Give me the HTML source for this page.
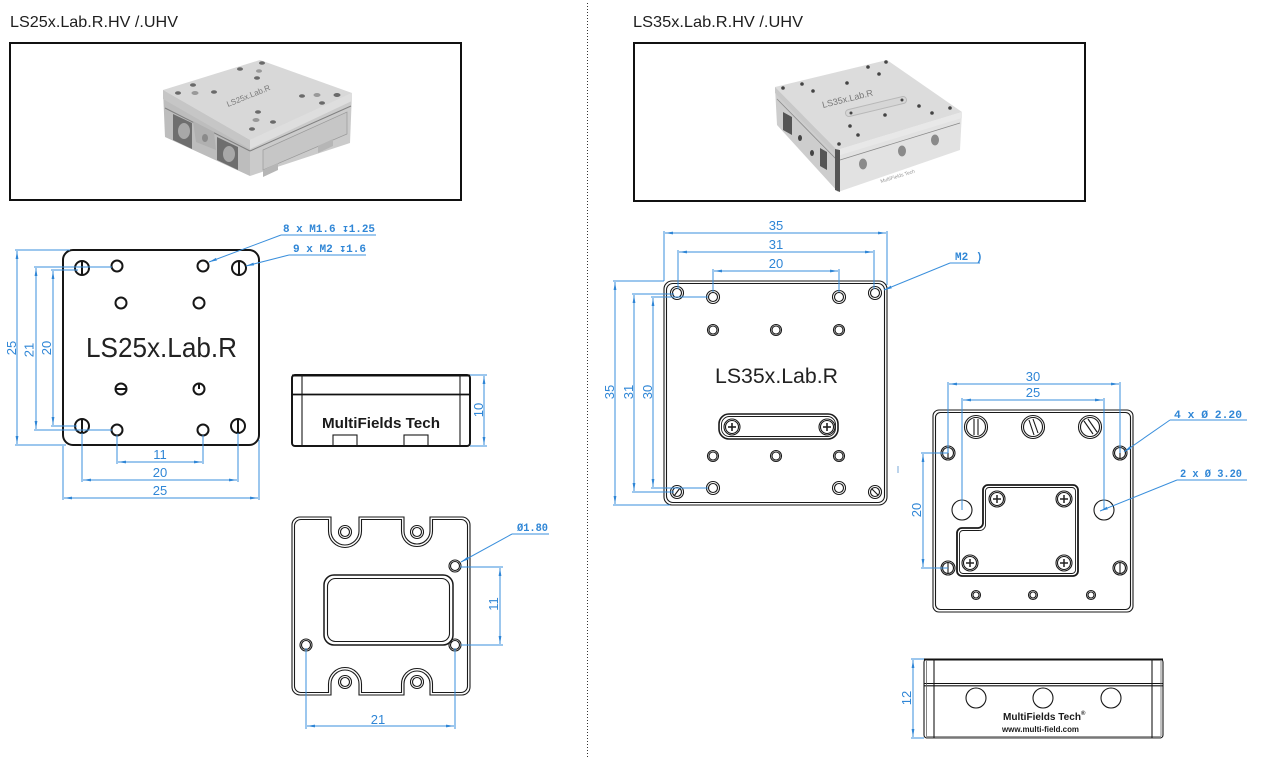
<!DOCTYPE html>
<html><head><meta charset="utf-8">
<style>
html,body{margin:0;padding:0;background:#fff;}
body{width:1262px;height:757px;overflow:hidden;}
svg{display:block;}
.k{fill:none;stroke:#161616;stroke-width:2;}
.t{fill:none;stroke:#1a1a1a;stroke-width:1.1;}
.b{fill:none;stroke:#3a8fdc;stroke-width:1;}
.d{fill:none;stroke:#3a8fdc;stroke-width:1;marker-start:url(#ar);marker-end:url(#ar);}
.l{fill:none;stroke:#3a8fdc;stroke-width:1;marker-end:url(#ar);}
.n{font-family:"Liberation Sans",sans-serif;font-size:13px;fill:#2f86d6;}
.m{font-family:"Liberation Mono","DejaVu Sans Mono",monospace;font-size:11px;fill:#2f86d6;font-weight:bold;}
.h{font-family:"Liberation Sans",sans-serif;font-size:16px;fill:#1e1e1e;}
</style></head><body>
<svg width="1262" height="757" viewBox="0 0 1262 757" xmlns="http://www.w3.org/2000/svg">
<defs>
<marker id="ar" viewBox="0 0 8 4" refX="8" refY="2" markerWidth="8" markerHeight="4" orient="auto-start-reverse" markerUnits="userSpaceOnUse"><path d="M0,0.6L8,2L0,3.4z" fill="#2f86d6"/></marker>
</defs>

<!-- divider -->
<line x1="587.5" y1="3" x2="587.5" y2="757" stroke="#333" stroke-width="1" stroke-dasharray="1,2"/>

<!-- headers -->
<text class="h" x="10" y="27" textLength="168" lengthAdjust="spacingAndGlyphs">LS25x.Lab.R.HV /.UHV</text>
<text class="h" x="633" y="27" textLength="170" lengthAdjust="spacingAndGlyphs">LS35x.Lab.R.HV /.UHV</text>

<!-- photo boxes -->
<rect x="10" y="43" width="451" height="157" fill="#fff" stroke="#111" stroke-width="2"/>
<rect x="634" y="43" width="451" height="158" fill="#fff" stroke="#111" stroke-width="2"/>

<!-- left photo -->
<g>
<polygon points="163,90 250,140 250,176 165,137" fill="#bdbdbd"/>
<polygon points="250,140 352,93 350,143 250,176" fill="#cbcbcb"/>
<polygon points="163,90 260,60 352,93 250,140" fill="#d8d8d8"/>
<polygon points="163,90 250,140 250,149 163,99" fill="#c6c6c6"/>
<polygon points="250,140 352,93 352,101 250,149" fill="#dedede"/>
<line x1="165" y1="108" x2="250" y2="151" stroke="#808080" stroke-width="1"/>
<line x1="250" y1="151" x2="351" y2="106" stroke="#808080" stroke-width="1"/>
<polygon points="173,114 192,123 192,149 173,140" fill="#6e6e6e"/>
<ellipse cx="184" cy="131" rx="6" ry="8" fill="#a8a8a8"/>
<polygon points="217,137 238,147 238,170 217,160" fill="#6e6e6e"/>
<ellipse cx="229" cy="154" rx="6" ry="8" fill="#a8a8a8"/>
<polygon points="193,121 214,132 216,150 196,142" fill="#b0b0b0"/>
<ellipse cx="205" cy="138" rx="3" ry="4" fill="#8a8a8a"/>
<polygon points="263,150 347,112 347,134 263,170" fill="#c6c6c6" stroke="#9a9a9a" stroke-width="0.7"/>
<polygon points="263,170 278,163 278,170 263,177" fill="#b6b6b6"/>
<polygon points="318,146 333,139 333,146 318,153" fill="#b6b6b6"/>
<g fill="#6a6a6a">
<ellipse cx="262" cy="63" rx="3" ry="1.8"/><ellipse cx="240" cy="69" rx="3" ry="1.8"/><ellipse cx="259" cy="71" rx="3" ry="1.8" fill="#999"/><ellipse cx="257" cy="78" rx="3" ry="1.8"/>
<ellipse cx="193" cy="85" rx="3" ry="1.8"/><ellipse cx="178" cy="93" rx="3" ry="1.8"/><ellipse cx="195" cy="93" rx="3.5" ry="2" fill="#999"/><ellipse cx="214" cy="92" rx="3" ry="1.8"/>
<ellipse cx="302" cy="96" rx="3" ry="1.8"/><ellipse cx="317" cy="95" rx="3.5" ry="2" fill="#999"/><ellipse cx="337" cy="95" rx="3.5" ry="2"/><ellipse cx="322" cy="103" rx="3" ry="1.8"/>
<ellipse cx="258" cy="112" rx="3" ry="1.8"/><ellipse cx="256" cy="120" rx="3.5" ry="2" fill="#999"/><ellipse cx="273" cy="122" rx="3" ry="1.8"/><ellipse cx="252" cy="129" rx="3" ry="1.8"/>
</g>
<text x="228" y="107" transform="rotate(-22 228 107)" font-family="Liberation Sans,sans-serif" font-size="8" fill="#7a7a7a">LS25x.Lab.R</text>
</g>

<!-- right photo -->
<g>
<polygon points="775,87 837,150 838,192 777,125" fill="#cdcdcd"/>
<polygon points="837,150 962,112 960,150 838,192" fill="#e2e2e2"/>
<polygon points="775,87 887,60 962,112 837,150" fill="#dcdcdc"/>
<polygon points="775,87 837,150 837,156 775,93" fill="#c8c8c8"/>
<polygon points="837,150 962,112 962,118 837,156" fill="#e8e8e8"/>
<line x1="840" y1="160" x2="960" y2="123" stroke="#8a8a8a" stroke-width="0.8"/>
<line x1="777" y1="99" x2="837" y2="160" stroke="#8a8a8a" stroke-width="0.8"/>
<polygon points="835,149 840,150 840,192 835,190" fill="#555"/>
<polygon points="783,112 792,117 792,135 783,130" fill="#555"/>
<polygon points="820,148 827,152 827,170 820,166" fill="#555"/>
<ellipse cx="863" cy="164" rx="4" ry="5.5" fill="#8a8a8a"/>
<ellipse cx="902" cy="151" rx="4" ry="5.5" fill="#8a8a8a"/>
<ellipse cx="935" cy="140" rx="4" ry="5.5" fill="#8a8a8a"/>
<ellipse cx="800" cy="138" rx="2" ry="3" fill="#444"/>
<ellipse cx="812" cy="153" rx="2" ry="3" fill="#444"/>
<line x1="849" y1="113" x2="903" y2="100" stroke="#b8b8b8" stroke-width="8" stroke-linecap="round"/>
<line x1="849" y1="113" x2="903" y2="100" stroke="#d6d6d6" stroke-width="6" stroke-linecap="round"/>
<g fill="#444">
<circle cx="886" cy="62" r="1.8"/><circle cx="868" cy="67" r="1.8"/><circle cx="879" cy="74" r="1.8"/><circle cx="847" cy="83" r="1.8"/>
<circle cx="802" cy="84" r="1.8"/><circle cx="783" cy="88" r="1.8"/><circle cx="813" cy="91" r="1.8"/><circle cx="919" cy="106" r="1.8"/>
<circle cx="950" cy="108" r="1.8"/><circle cx="932" cy="113" r="1.8"/><circle cx="885" cy="115" r="1.8"/><circle cx="850" cy="126" r="1.8"/>
<circle cx="858" cy="135" r="1.8"/><circle cx="839" cy="144" r="1.8"/><circle cx="902" cy="100" r="1.5"/><circle cx="851" cy="113" r="1.5"/>
</g>
<text x="823" y="108" transform="rotate(-14 823 108)" font-family="Liberation Sans,sans-serif" font-size="9" fill="#777">LS35x.Lab.R</text>
<text x="881" y="183" transform="rotate(-17 881 183)" font-family="Liberation Sans,sans-serif" font-size="5" fill="#999">MultiFields Tech</text>
</g>

<!-- ===== LEFT TOP VIEW ===== -->
<rect x="63" y="250" width="196" height="195" rx="10" class="k" stroke-width="2.2"/>
<g class="k">
<circle cx="82" cy="268" r="7"/><line x1="82" y1="261" x2="82" y2="275"/>
<circle cx="239" cy="268" r="7"/><line x1="239" y1="261" x2="239" y2="275"/>
<circle cx="82" cy="426" r="7"/><line x1="82" y1="419" x2="82" y2="433"/>
<circle cx="238" cy="426" r="7"/><line x1="238" y1="419" x2="238" y2="433"/>
<circle cx="117" cy="266" r="5.5"/><circle cx="203" cy="266" r="5.5"/>
<circle cx="121" cy="303" r="5.5"/><circle cx="199" cy="303" r="5.5"/>
<circle cx="121" cy="389" r="5.5"/><line x1="116" y1="389" x2="126" y2="389"/>
<circle cx="199" cy="389" r="5.5"/><line x1="199" y1="384" x2="199" y2="389"/>
<circle cx="117" cy="430" r="5.5"/><circle cx="203" cy="430" r="5.5"/>
</g>
<text x="86" y="357" textLength="151" lengthAdjust="spacingAndGlyphs" font-family="Liberation Sans,sans-serif" font-size="28" fill="#222">LS25x.Lab.R</text>

<!-- left top dims -->
<g class="b">
<line x1="15" y1="250" x2="70" y2="250"/><line x1="15" y1="445" x2="66" y2="445"/>
<line x1="34" y1="267" x2="112" y2="267"/><line x1="34" y1="430" x2="112" y2="430"/>
<line x1="51" y1="270" x2="78" y2="270"/><line x1="51" y1="426" x2="77" y2="426"/>
<line x1="117" y1="435" x2="117" y2="464"/><line x1="203" y1="435" x2="203" y2="464"/>
<line x1="82" y1="433" x2="82" y2="482"/><line x1="238" y1="433" x2="238" y2="482"/>
<line x1="63" y1="446" x2="63" y2="500"/><line x1="259" y1="440" x2="259" y2="500"/>
</g>
<line class="d" x1="17" y1="251" x2="17" y2="444"/>
<line class="d" x1="36" y1="268" x2="36" y2="429"/>
<line class="d" x1="53" y1="271" x2="53" y2="425"/>
<line class="d" x1="118" y1="462" x2="202" y2="462"/>
<line class="d" x1="83" y1="480" x2="237" y2="480"/>
<line class="d" x1="64" y1="498" x2="258" y2="498"/>
<text class="n" transform="translate(16,348) rotate(-90)" text-anchor="middle">25</text>
<text class="n" transform="translate(33.5,350) rotate(-90)" text-anchor="middle">21</text>
<text class="n" transform="translate(51,348) rotate(-90)" text-anchor="middle">20</text>
<text class="n" x="160" y="459" text-anchor="middle">11</text>
<text class="n" x="160" y="477" text-anchor="middle">20</text>
<text class="n" x="160" y="495" text-anchor="middle">25</text>

<!-- callouts -->
<text class="m" x="283" y="232" textLength="92" lengthAdjust="spacingAndGlyphs">8 x M1.6 ↧1.25</text>
<line class="b" x1="281" y1="235" x2="376" y2="235"/>
<line class="l" x1="281" y1="235" x2="209" y2="262"/>
<text class="m" x="293" y="252" textLength="73" lengthAdjust="spacingAndGlyphs">9 x M2 ↧1.6</text>
<line class="b" x1="289" y1="255" x2="366" y2="255"/>
<line class="l" x1="289" y1="255" x2="246" y2="266"/>

<!-- ===== LEFT SIDE VIEW ===== -->
<rect x="292" y="375" width="178" height="71" rx="3" class="k" stroke-width="1.6"/>
<line x1="292" y1="375.5" x2="470" y2="375.5" stroke="#111" stroke-width="2"/>
<line x1="292" y1="394.5" x2="470" y2="394.5" stroke="#111" stroke-width="1.8"/>
<line x1="302" y1="375" x2="302" y2="446" class="t"/>
<line x1="460" y1="375" x2="460" y2="446" class="t"/>
<rect x="333" y="435" width="24" height="11" class="t"/>
<rect x="404" y="435" width="24" height="11" class="t"/>
<text x="322" y="428" textLength="118" lengthAdjust="spacingAndGlyphs" font-family="Liberation Sans,sans-serif" font-size="15" font-weight="bold" fill="#1a1a1a">MultiFields Tech</text>
<g class="b"><line x1="470" y1="375" x2="487" y2="375"/><line x1="470" y1="446" x2="487" y2="446"/></g>
<line class="d" x1="484" y1="376" x2="484" y2="445"/>
<text class="n" transform="translate(483,410) rotate(-90)" text-anchor="middle">10</text>

<!-- ===== LEFT BOTTOM VIEW ===== -->
<path class="t" stroke-width="1.5" d="M300,517 H331 V531 A14,14 0 0 0 359,531 V517 H404 V531 A13,13 0 0 0 430,531 V517 H462 A8,8 0 0 1 470,525 V687 A8,8 0 0 1 462,695 H430 V684 A13,13 0 0 0 404,684 V695 H359 V684 A14,14 0 0 0 331,684 V695 H300 A8,8 0 0 1 292,687 V525 A8,8 0 0 1 300,517 Z"/>
<path class="t" d="M301,519.5 H328.5 V531 A16.5,16.5 0 0 0 361.5,531 V519.5 H401.5 V531 A15.5,15.5 0 0 0 432.5,531 V519.5 H461 A6.5,6.5 0 0 1 467.5,526 V686 A6.5,6.5 0 0 1 461,692.5 H432.5 V684 A15.5,15.5 0 0 0 401.5,684 V692.5 H361.5 V684 A16.5,16.5 0 0 0 328.5,684 V692.5 H301 A6.5,6.5 0 0 1 294.5,686 V526 A6.5,6.5 0 0 1 301,519.5 Z"/>
<g class="t">
<circle cx="345" cy="532" r="6.5"/><circle cx="345" cy="532" r="4.5"/>
<circle cx="417" cy="532" r="6.5"/><circle cx="417" cy="532" r="4.5"/>
<circle cx="345" cy="682" r="6.5"/><circle cx="345" cy="682" r="4.5"/>
<circle cx="417" cy="682" r="6.5"/><circle cx="417" cy="682" r="4.5"/>
<circle cx="455" cy="566" r="6"/><circle cx="455" cy="566" r="4.5"/>
<circle cx="306" cy="645" r="6"/><circle cx="306" cy="645" r="4.5"/>
<circle cx="455" cy="645" r="6"/><circle cx="455" cy="645" r="4.5"/>
<rect x="324" y="575" width="129" height="70" rx="10" stroke-width="1.5"/>
<rect x="327.5" y="578.5" width="122" height="63" rx="8"/>
</g>
<text class="m" x="517" y="531" textLength="31" lengthAdjust="spacingAndGlyphs">Ø1.80</text>
<line class="b" x1="512" y1="534" x2="549" y2="534"/>
<line class="l" x1="512" y1="534" x2="461" y2="562"/>
<g class="b"><line x1="460" y1="567" x2="503" y2="567"/><line x1="461" y1="645" x2="503" y2="645"/>
<line x1="306" y1="648" x2="306" y2="729"/><line x1="455" y1="648" x2="455" y2="729"/></g>
<line class="d" x1="500" y1="568" x2="500" y2="644"/>
<line class="d" x1="307" y1="726" x2="454" y2="726"/>
<text class="n" transform="translate(498,604) rotate(-90)" text-anchor="middle">11</text>
<text class="n" x="378" y="724" text-anchor="middle">21</text>

<!-- ===== RIGHT TOP VIEW ===== -->
<rect x="664" y="281" width="223" height="224" rx="8" class="t" stroke-width="1.8"/>
<rect x="666.5" y="283.5" width="218" height="219" rx="6.5" class="t" stroke-width="0.9"/>
<g class="t" stroke-width="1.4">
<circle cx="677" cy="293" r="6.5"/><circle cx="677" cy="293" r="4.5"/>
<circle cx="875" cy="293" r="6.5"/><circle cx="875" cy="293" r="4.5"/>
<circle cx="677" cy="492" r="6.5"/><circle cx="677" cy="492" r="4.5"/><line x1="674" y1="496" x2="680" y2="488"/>
<circle cx="875" cy="492" r="6.5"/><circle cx="875" cy="492" r="4.5"/><line x1="872" y1="489" x2="878" y2="495"/>
<circle cx="713" cy="297" r="6.5"/><circle cx="713" cy="297" r="4.5"/>
<circle cx="839" cy="297" r="6.5"/><circle cx="839" cy="297" r="4.5"/>
<circle cx="713" cy="330" r="5.5"/><circle cx="713" cy="330" r="4"/>
<circle cx="776" cy="330" r="5.5"/><circle cx="776" cy="330" r="4"/>
<circle cx="839" cy="330" r="5.5"/><circle cx="839" cy="330" r="4"/>
<circle cx="713" cy="456" r="5.5"/><circle cx="713" cy="456" r="4"/>
<circle cx="776" cy="456" r="5.5"/><circle cx="776" cy="456" r="4"/>
<circle cx="839" cy="456" r="5.5"/><circle cx="839" cy="456" r="4"/>
<circle cx="713" cy="488" r="6.5"/><circle cx="713" cy="488" r="4.5"/>
<circle cx="839" cy="488" r="6.5"/><circle cx="839" cy="488" r="4.5"/>
<rect x="719" y="414" width="119" height="25" rx="10" stroke-width="1.6"/>
<rect x="721.5" y="416.5" width="114" height="20" rx="8" stroke-width="0.9"/>
<circle cx="732" cy="427" r="8"/><circle cx="732" cy="427" r="6.5"/>
<circle cx="827" cy="427" r="8"/><circle cx="827" cy="427" r="6.5"/>
</g>
<g stroke="#222" stroke-width="1.6"><line x1="728" y1="427" x2="736" y2="427"/><line x1="732" y1="423" x2="732" y2="431"/>
<line x1="823" y1="427" x2="831" y2="427"/><line x1="827" y1="423" x2="827" y2="431"/></g>
<text x="715" y="383" textLength="123" lengthAdjust="spacingAndGlyphs" font-family="Liberation Sans,sans-serif" font-size="21" fill="#222">LS35x.Lab.R</text>

<g class="b">
<line x1="664" y1="231" x2="664" y2="281"/><line x1="887" y1="231" x2="887" y2="285"/>
<line x1="678" y1="250" x2="678" y2="289"/><line x1="874" y1="250" x2="874" y2="289"/>
<line x1="713" y1="269" x2="713" y2="292"/><line x1="839" y1="269" x2="839" y2="292"/>
<line x1="613" y1="281" x2="664" y2="281"/><line x1="613" y1="505" x2="670" y2="505"/>
<line x1="632" y1="294" x2="674" y2="294"/><line x1="632" y1="492" x2="674" y2="492"/>
<line x1="651" y1="297" x2="708" y2="297"/><line x1="651" y1="488" x2="708" y2="488"/>
</g>
<line class="d" x1="665" y1="233" x2="886" y2="233"/>
<line class="d" x1="679" y1="252" x2="873" y2="252"/>
<line class="d" x1="714" y1="271" x2="838" y2="271"/>
<line class="d" x1="615" y1="282" x2="615" y2="504"/>
<line class="d" x1="634" y1="295" x2="634" y2="491"/>
<line class="d" x1="653" y1="298" x2="653" y2="487"/>
<text class="n" x="776" y="230" text-anchor="middle">35</text>
<text class="n" x="776" y="249" text-anchor="middle">31</text>
<text class="n" x="776" y="268" text-anchor="middle">20</text>
<text class="n" transform="translate(614,392) rotate(-90)" text-anchor="middle">35</text>
<text class="n" transform="translate(633,392) rotate(-90)" text-anchor="middle">31</text>
<text class="n" transform="translate(652,392) rotate(-90)" text-anchor="middle">30</text>
<text class="m" x="955" y="260">M2</text>
<text class="m" x="976" y="260" font-size="8">)</text>
<line class="b" x1="950" y1="263" x2="980" y2="263"/>
<line class="l" x1="950" y1="263" x2="884" y2="290"/>
<line x1="898" y1="466" x2="898" y2="473" stroke="#7aa8d8" stroke-width="1"/>

<!-- ===== RIGHT BOTTOM VIEW ===== -->
<rect x="933" y="410" width="200" height="202" rx="6" class="t" stroke-width="1.8"/>
<rect x="935.5" y="412.5" width="195" height="197" rx="5" class="t" stroke-width="0.9"/>
<g class="t" stroke-width="1.4">
<circle cx="976" cy="427" r="11.5"/><circle cx="976" cy="427" r="9.5"/>
<line x1="974" y1="419" x2="974" y2="435"/><line x1="978" y1="419" x2="978" y2="435"/>
<circle cx="1033" cy="427" r="11.5"/><circle cx="1033" cy="427" r="9.5"/>
<line x1="1029" y1="420" x2="1034" y2="435"/><line x1="1033" y1="419" x2="1038" y2="433"/>
<circle cx="1090" cy="427" r="11.5"/><circle cx="1090" cy="427" r="9.5"/>
<line x1="1084" y1="421" x2="1093" y2="434"/><line x1="1088" y1="419" x2="1097" y2="432"/>
<circle cx="948" cy="453" r="7"/><circle cx="948" cy="453" r="5.5"/><line x1="948" y1="447" x2="948" y2="459"/>
<circle cx="1120" cy="453" r="7"/><circle cx="1120" cy="453" r="5.5"/><line x1="1120" y1="447" x2="1120" y2="459"/>
<circle cx="948" cy="568" r="7"/><circle cx="948" cy="568" r="5.5"/><line x1="948" y1="562" x2="948" y2="574"/>
<circle cx="1120" cy="568" r="7"/><circle cx="1120" cy="568" r="5.5"/><line x1="1120" y1="562" x2="1120" y2="574"/>
<circle cx="962" cy="510" r="10"/>
<circle cx="1104" cy="510" r="10"/>
<circle cx="976" cy="595" r="4.5"/><circle cx="976" cy="595" r="3"/>
<circle cx="1033" cy="595" r="4.5"/><circle cx="1033" cy="595" r="3"/>
<circle cx="1091" cy="595" r="4.5"/><circle cx="1091" cy="595" r="3"/>
<path stroke-width="1.8" d="M988,485 H1073 A5,5 0 0 1 1078,490 V571 A5,5 0 0 1 1073,576 H962 A5,5 0 0 1 957,571 V533 A5,5 0 0 1 962,528 H978 A5,5 0 0 0 983,523 V490 A5,5 0 0 1 988,485 Z"/>
<path stroke-width="0.9" d="M989,487.5 H1072 A3.5,3.5 0 0 1 1075.5,491 V570 A3.5,3.5 0 0 1 1072,573.5 H963 A3.5,3.5 0 0 1 959.5,570 V534 A3.5,3.5 0 0 1 963,530.5 H979 A6,6 0 0 0 985.5,524 V491 A3.5,3.5 0 0 1 989,487.5 Z"/>
<circle cx="997" cy="499" r="8"/><circle cx="997" cy="499" r="6.5"/>
<circle cx="1064" cy="499" r="8"/><circle cx="1064" cy="499" r="6.5"/>
<circle cx="970" cy="563" r="8"/><circle cx="970" cy="563" r="6.5"/>
<circle cx="1064" cy="563" r="8"/><circle cx="1064" cy="563" r="6.5"/>
</g>
<g stroke="#222" stroke-width="1.5">
<line x1="993" y1="499" x2="1001" y2="499"/><line x1="997" y1="495" x2="997" y2="503"/>
<line x1="1060" y1="499" x2="1068" y2="499"/><line x1="1064" y1="495" x2="1064" y2="503"/>
<line x1="966" y1="563" x2="974" y2="563"/><line x1="970" y1="559" x2="970" y2="567"/>
<line x1="1060" y1="563" x2="1068" y2="563"/><line x1="1064" y1="559" x2="1064" y2="567"/>
</g>
<g class="b">
<line x1="948" y1="382" x2="948" y2="453"/><line x1="1120" y1="382" x2="1120" y2="453"/>
<line x1="962" y1="398" x2="962" y2="510"/><line x1="1104" y1="398" x2="1104" y2="510"/>
<line x1="921" y1="453" x2="948" y2="453"/><line x1="921" y1="568" x2="948" y2="568"/>
</g>
<line class="d" x1="949" y1="384" x2="1119" y2="384"/>
<line class="d" x1="963" y1="400" x2="1103" y2="400"/>
<line class="d" x1="923" y1="454" x2="923" y2="567"/>
<text class="n" x="1033" y="381" text-anchor="middle">30</text>
<text class="n" x="1033" y="397" text-anchor="middle">25</text>
<text class="n" transform="translate(921,510) rotate(-90)" text-anchor="middle">20</text>
<text class="m" x="1174" y="418" textLength="68" lengthAdjust="spacingAndGlyphs">4 x Ø 2.20</text>
<line class="b" x1="1170" y1="420" x2="1247" y2="420"/>
<line class="l" x1="1170" y1="420" x2="1124" y2="452"/>
<text class="m" x="1180" y="477" textLength="62" lengthAdjust="spacingAndGlyphs">2 x Ø 3.20</text>
<line class="b" x1="1177" y1="480" x2="1247" y2="480"/>
<line class="l" x1="1177" y1="480" x2="1100" y2="511"/>

<!-- ===== RIGHT SIDE VIEW ===== -->
<rect x="924" y="659" width="239" height="79" rx="3" class="t" stroke-width="1.4"/>
<line x1="924" y1="659.5" x2="1163" y2="659.5" stroke="#111" stroke-width="2"/>
<line x1="926" y1="737.5" x2="1161" y2="737.5" stroke="#777" stroke-width="2.5"/>
<line x1="924" y1="683.5" x2="1163" y2="683.5" stroke="#111" stroke-width="1.1"/>
<line x1="924" y1="685.8" x2="1163" y2="685.8" stroke="#111" stroke-width="1.1"/>
<line x1="934" y1="659" x2="934" y2="738" class="t"/>
<line x1="1152" y1="659" x2="1152" y2="738" class="t"/>
<line x1="926.5" y1="661" x2="926.5" y2="736" stroke="#666" stroke-width="0.8"/>
<line x1="1161" y1="661" x2="1161" y2="736" stroke="#666" stroke-width="0.8"/>
<g class="t"><circle cx="976" cy="698" r="10"/><circle cx="1043" cy="698" r="10"/><circle cx="1111" cy="698" r="10"/></g>
<text x="1003" y="720" textLength="78" lengthAdjust="spacingAndGlyphs" font-family="Liberation Sans,sans-serif" font-size="10" font-weight="bold" fill="#1a1a1a">MultiFields Tech</text>
<text x="1081" y="715" font-family="Liberation Sans,sans-serif" font-size="6" font-weight="bold" fill="#1a1a1a">®</text>
<text x="1002" y="732" textLength="77" lengthAdjust="spacingAndGlyphs" font-family="Liberation Sans,sans-serif" font-size="8.5" font-weight="bold" fill="#1a1a1a">www.multi-field.com</text>
<g class="b"><line x1="911" y1="659" x2="924" y2="659"/><line x1="911" y1="738" x2="924" y2="738"/></g>
<line class="d" x1="913" y1="660" x2="913" y2="737"/>
<text class="n" transform="translate(911,698) rotate(-90)" text-anchor="middle">12</text>
</svg>
</body></html>
